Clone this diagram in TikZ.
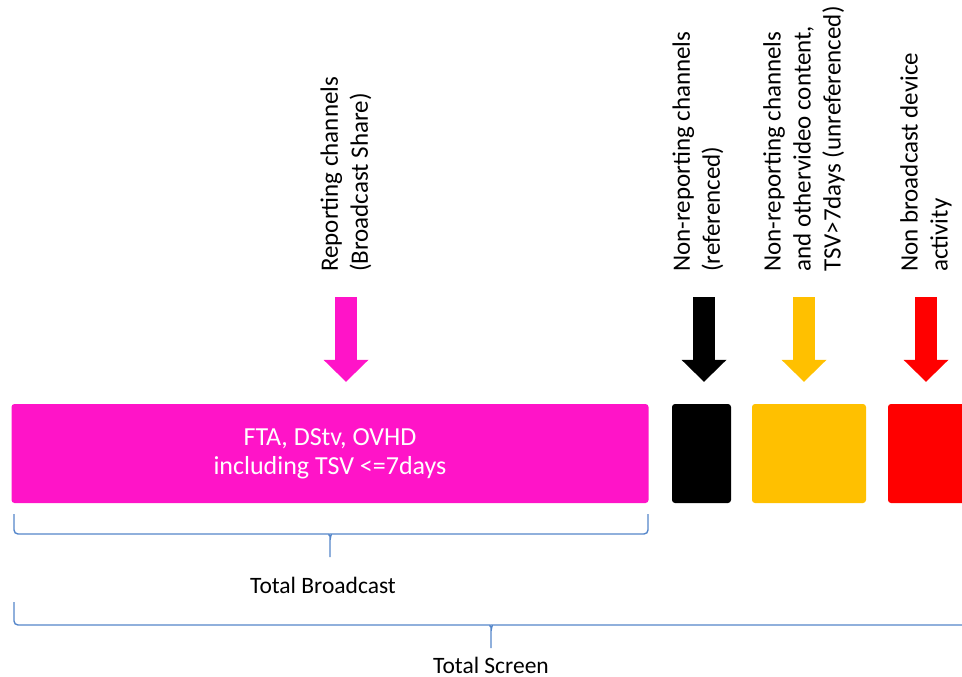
\documentclass[tikz,border=0pt]{standalone}
\usepackage{fontspec}
\setmainfont{Carlito}
\usetikzlibrary{arrows.meta,positioning}
\definecolor{pinkC}{RGB}{255,20,200}
\definecolor{amberC}{RGB}{255,192,0}
\definecolor{redC}{RGB}{255,0,0}
\definecolor{braceC}{RGB}{84,134,202}
\tikzset{
  >={Triangle[width=45pt,length=22pt,line width=0pt]}
}

\begin{document}
\begin{tikzpicture}[x=1pt,y=-1pt,
        blok/.style={rectangle,rounded corners=3pt,minimum height=99pt,inner sep=0pt},
        tag/.style={rotate=90,anchor=west,align=left,inner sep=0pt,font=\fontsize{25}{30}\selectfont},
        fat/.style={line width=22pt,->,shorten >=22pt},
        brace/.style={draw=braceC,line width=1.4pt,rounded corners=4pt},
        total/.style={anchor=base,inner sep=0pt,font=\fontsize{23.5}{28}\selectfont}
      ]
      \useasboundingbox (0,0) rectangle (962,677);
      \node (BC) at (330,453.5) [blok,fill=pinkC,minimum width=637pt,text=white,align=center,font=\fontsize{26}{29}\selectfont] {FTA, DStv, OVHD\\including TSV <=7days};
      \node (NRR) at (701.5,453.5) [blok,fill=black,minimum width=59pt] {};
      \node (NRU) at (809,453.5) [blok,fill=amberC,minimum width=114pt] {};
      \node (NBD) at (944,453.5) [blok,fill=redC,minimum width=112pt] {};
      \node (BCL) at (346,272) [tag] {Reporting channels\\(Broadcast Share)};
      \node (NRRL) at (698,272) [tag] {Non-reporting channels\\(referenced)};
      \node (NRUL) at (804,272) [tag] {Non-reporting channels\\and othervideo content,\\TSV>7days (unreferenced)};
      \node (NBDL) at (926,272) [tag] {Non broadcast device\\activity};
      \draw[fat,pinkC] ([yshift=-25pt]BCL.west) -- (BCL.west |- BC.north);
      \draw[fat,black] ([xshift=6pt,yshift=-25pt]NRRL.west) -- ([xshift=6pt]NRRL.west |- NRR.north);
      \draw[fat,amberC] ([yshift=-25pt]NRUL.west) -- (NRUL.west |- NRU.north);
      \draw[fat,redC] ([yshift=-25pt]NBDL.west) -- (NBDL.west |- NBD.north);
      % braces
      \draw[brace] (14,514) -- (14,534) -- (325,534) to[out=0,in=90] (330,540) -- (330,557)
        (330,540) to[out=90,in=180] (335,534) -- (648,534) -- (648,514);
      \node (TB) at (323,593) [total] {Total Broadcast};
      \draw[brace] (14,602) -- (14,625) -- (486,625) to[out=0,in=90] (491,631) -- (491,648)
        (491,631) to[out=90,in=180] (496,625) -- (1000,625);
      \node (TS) at (491,673) [total] {Total Screen};
    \end{tikzpicture}
\end{document}
